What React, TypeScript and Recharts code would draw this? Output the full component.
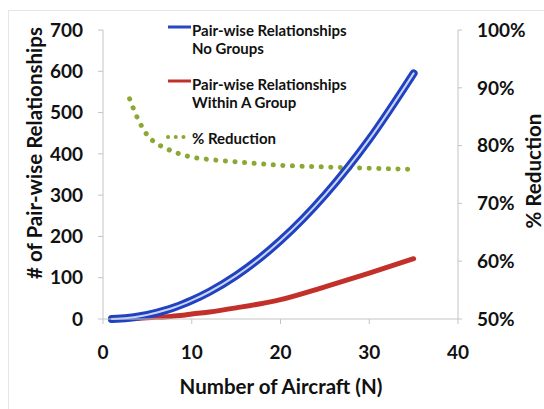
import React from "react";
import { ComposedChart, Line, XAxis, YAxis } from "recharts";

const nValues = [1, 2, 3, 4, 5, 6, 7, 8, 9, 10, 12, 15, 20, 25, 30, 35];
const noGroups = [0, 1, 3, 6, 10, 15, 21, 28, 36, 45, 66, 105, 190, 300, 435, 595];
const withinGroup = [null, 0.5, 1, 2, 3, 4, 5, 7, 9, 12, 17, 27, 47, 78, 111, 146];
const pctReduction = [null, null, 88.1, 84.4, 81.8, 80.4, 79.6, 78.9, 78.4, 78.0, 77.6, 77.2, 76.6, 76.3, 76.1, 75.9];

const xTicks = [0, 10, 20, 30, 40];
const leftTicks = [0, 100, 200, 300, 400, 500, 600, 700];
const rightTicks = [50, 60, 70, 80, 90, 100];

const legendItems = [
  { key: "blue", lines: ["Pair-wise Relationships", "No Groups"], color: "#2547c2", dotted: false },
  { key: "red", lines: ["Pair-wise Relationships", "Within A Group"], color: "#c3302a", dotted: false },
  { key: "green", lines: ["% Reduction"], color: "#8aa832", dotted: true },
];

const data = nValues.map((n, i) => ({
  n,
  noGroups: noGroups[i],
  withinGroup: withinGroup[i],
  pct: pctReduction[i],
}));

const FONT = "Lato, 'Open Sans', sans-serif";
const AXIS = "#c4c4c4";
const tickStyle = { fontFamily: FONT, fontWeight: 700, fontSize: 19, fill: "#111" };
const titleStyle = { fontFamily: FONT, fontWeight: 700, fontSize: 20.5, fill: "#111" };

const LegendBox = () => (
  <div style={{ position: "absolute", top: 21, left: 166, width: 220, fontFamily: FONT, fontWeight: 700, fontSize: 15, color: "#111" }}>
    {legendItems.map((it) => (
      <div key={it.key} style={{ display: "flex", marginBottom: 18 }}>
        <svg width={26} height={18} style={{ flex: "none" }}>
          {it.dotted ? (
            <line x1={2} y1={8} x2={25} y2={8} stroke={it.color} strokeWidth={4} strokeLinecap="round" strokeDasharray="0.1 7.6" />
          ) : (
            <line x1={2} y1={6} x2={25} y2={6} stroke={it.color} strokeWidth={3} />
          )}
        </svg>
        <div style={{ lineHeight: "18px", whiteSpace: "nowrap" }}>
          {it.lines.map((l) => (
            <div key={l}>{l}</div>
          ))}
        </div>
      </div>
    ))}
  </div>
);

export default function App() {
  return (
    <div style={{ position: "absolute", left: 0, top: 0, width: 544, height: 409, overflow: "hidden", background: "#fff" }}>
      <div style={{ position: "absolute", left: 8, top: 10, width: 540, height: 400, borderTop: "1px solid #e6e6e6", borderLeft: "1px solid #e6e6e6" }} />
      <div style={{ position: "absolute", left: 0, top: 0 }}>
        <ComposedChart
          width={544}
          height={409}
          data={data}
          margin={{ top: 30, right: 26, bottom: 60, left: 43 }}
        >
          <XAxis
            dataKey="n"
            type="number"
            domain={[0, 40]}
            ticks={xTicks}
            height={30}
            stroke={AXIS}
            tickSize={5}
            tickMargin={22}
            tick={tickStyle}
            label={{
              content: () => (
                <text x={281} y={394} textAnchor="middle" style={titleStyle}>
                  Number of Aircraft (N)
                </text>
              ),
            }}
          />
          <YAxis
            yAxisId="left"
            domain={[0, 700]}
            ticks={leftTicks}
            width={60}
            stroke={AXIS}
            tickSize={5}
            tickMargin={15}
            tick={tickStyle}
            label={{
              content: () => (
                <text x={42} y={153} transform="rotate(-90 42 153)" textAnchor="middle" style={titleStyle}>
                  # of Pair-wise Relationships
                </text>
              ),
            }}
          />
          <YAxis
            yAxisId="right"
            orientation="right"
            domain={[50, 100]}
            ticks={rightTicks}
            width={60}
            stroke={AXIS}
            tickSize={4}
            tickMargin={15}
            tick={tickStyle}
            tickFormatter={(v: number) => `${v}%`}
            label={{
              content: () => (
                <text x={541} y={171} transform="rotate(-90 541 171)" textAnchor="middle" style={titleStyle}>
                  % Reduction
                </text>
              ),
            }}
          />
          <Line yAxisId="right" type="monotone" dataKey="pct" stroke="#8aa832" strokeWidth={5} strokeLinecap="round" strokeDasharray="0.1 9.5" dot={false} isAnimationActive={false} />
          <Line yAxisId="left" type="monotone" dataKey="withinGroup" stroke="#c3302a" strokeWidth={5} strokeLinecap="round" dot={false} isAnimationActive={false} />
          <Line yAxisId="left" type="monotone" dataKey="noGroups" stroke="#2142c0" strokeWidth={8} strokeLinecap="round" dot={false} isAnimationActive={false} />
          <Line yAxisId="left" type="monotone" dataKey="noGroups" stroke="#c9d4f6" strokeWidth={2} strokeLinecap="round" dot={false} isAnimationActive={false} />
        </ComposedChart>
      </div>
      <LegendBox />
    </div>
  );
}
